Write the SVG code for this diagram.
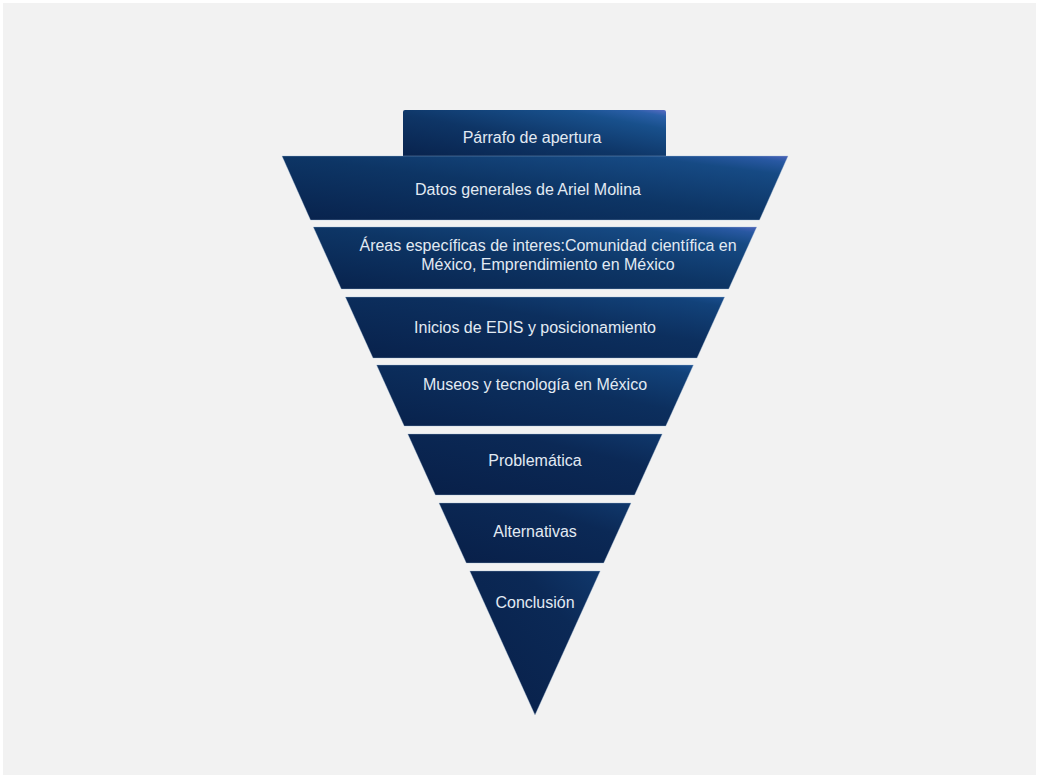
<svg xmlns="http://www.w3.org/2000/svg" width="1039" height="778" viewBox="0 0 1039 778">
<style>
.t{font-family:"Liberation Sans",Arial,sans-serif;font-size:16px;fill:#e2eaf3;text-anchor:middle}
.seg{stroke:#9fb8d6;stroke-width:0.8;stroke-opacity:0.45}
</style>
<defs>
<linearGradient id="gTop" x1="0" y1="1" x2="1" y2="0">
<stop offset="0" stop-color="#08224c"/>
<stop offset="0.45" stop-color="#0e3566"/>
<stop offset="0.8" stop-color="#18508c"/>
<stop offset="0.93" stop-color="#2a5fa8"/>
<stop offset="1" stop-color="#5a6cc4"/>
</linearGradient>
<linearGradient id="g1" x1="0" y1="1" x2="1" y2="0">
<stop offset="0" stop-color="#08224c"/>
<stop offset="0.5" stop-color="#0d3565"/>
<stop offset="0.85" stop-color="#164a84"/>
<stop offset="0.95" stop-color="#2858a2"/>
<stop offset="1" stop-color="#4b62b8"/>
</linearGradient>
<linearGradient id="g2" x1="0" y1="1" x2="1" y2="0">
<stop offset="0" stop-color="#08214b"/>
<stop offset="0.6" stop-color="#0c2f5e"/>
<stop offset="0.92" stop-color="#12427a"/>
<stop offset="1" stop-color="#1a4e8e"/>
</linearGradient>
<linearGradient id="g3" x1="0" y1="1" x2="1" y2="0">
<stop offset="0" stop-color="#081f48"/>
<stop offset="0.7" stop-color="#0b2956"/>
<stop offset="1" stop-color="#10386c"/>
</linearGradient>
</defs>
<rect x="0" y="0" width="1039" height="778" fill="#ffffff"/>
<rect x="3" y="3" width="1033" height="772" fill="#f2f2f2"/>
<g id="n0">
<rect x="403" y="110" width="263" height="48" rx="2" fill="url(#gTop)"/>
<text class="t" x="532" y="143">Párrafo de apertura</text>
</g>
<g id="n1">
<polygon class="seg" points="282,156 788,156 759.5,220 310.5,220" fill="url(#g1)"/>
<text class="t" x="528" y="195">Datos generales de Ariel Molina</text>
</g>
<g id="n2">
<polygon class="seg" points="313.3,227 756.7,227 728.7,289 341.3,289" fill="url(#g1)"/>
<text class="t" x="548" y="251">Áreas específicas de interes:Comunidad científica en</text>
<text class="t" x="548" y="270">México, Emprendimiento en México</text>
</g>
<g id="n3">
<polygon class="seg" points="345.4,297 724.6,297 697,358 373,358" fill="url(#g2)"/>
<text class="t" x="535" y="333">Inicios de EDIS y posicionamiento</text>
</g>
<g id="n4">
<polygon class="seg" points="376.6,365 693.4,365 665.8,426 404.2,426" fill="url(#g2)"/>
<text class="t" x="535" y="390">Museos y tecnología en México</text>
</g>
<g id="n5">
<polygon class="seg" points="407.8,434 662.2,434 634.6,495 435.4,495" fill="url(#g3)"/>
<text class="t" x="535" y="466">Problemática</text>
</g>
<g id="n6">
<polygon class="seg" points="439,503 631,503 603.7,563 466.3,563" fill="url(#g3)"/>
<text class="t" x="535" y="537">Alternativas</text>
</g>
<g id="n7">
<polygon class="seg" points="469.8,571 600.2,571 535,715" fill="url(#g3)"/>
<text class="t" x="535" y="608">Conclusión</text>
</g>
<g id="connectors"/>
</svg>
